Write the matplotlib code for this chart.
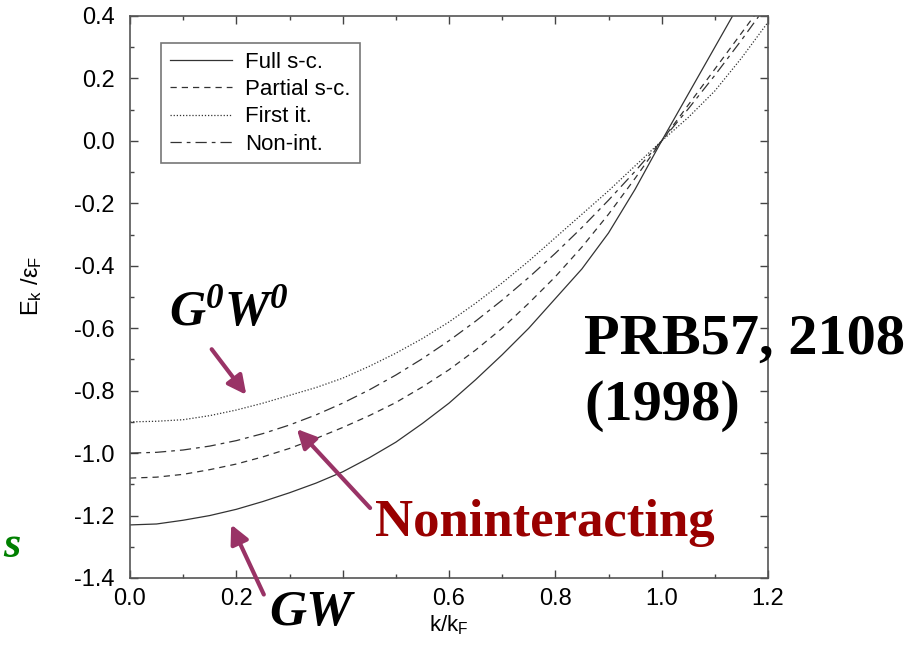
import matplotlib
matplotlib.use("Agg")
import matplotlib.pyplot as plt
from matplotlib.ticker import MultipleLocator

# --- Data (E_k / eps_F vs k / k_F) ---
k = [0.0, 0.05, 0.1, 0.15, 0.2, 0.25, 0.3, 0.35, 0.4, 0.45, 0.5, 0.55, 0.6,
     0.65, 0.7, 0.75, 0.8, 0.85, 0.9, 0.95, 1.0, 1.05, 1.1, 1.15, 1.2]
full_sc = [-1.23, -1.227, -1.215, -1.20, -1.18, -1.155, -1.127, -1.096, -1.06, -1.015, -0.965,
           -0.905, -0.84, -0.765, -0.685, -0.60, -0.505, -0.41, -0.295, -0.155, 0.0,
           0.15, 0.30, 0.45, 0.60]
partial_sc = [-1.08, -1.077, -1.068, -1.053, -1.035, -1.012, -0.985, -0.953, -0.918, -0.88, -0.838,
              -0.788, -0.733, -0.67, -0.60, -0.52, -0.435, -0.34, -0.235, -0.12, 0.0,
              0.115, 0.23, 0.345, 0.46]
first_it = [-0.90, -0.898, -0.893, -0.88, -0.862, -0.84, -0.815, -0.79, -0.76, -0.722, -0.68,
            -0.633, -0.58, -0.52, -0.455, -0.385, -0.31, -0.235, -0.16, -0.08, 0.0,
            0.075, 0.16, 0.265, 0.38]
non_int = [-1.0, -0.9975, -0.99, -0.9775, -0.96, -0.9375, -0.91, -0.8775, -0.84, -0.7975, -0.75,
           -0.6975, -0.64, -0.5775, -0.51, -0.4375, -0.36, -0.2775, -0.19, -0.0975, 0.0,
           0.1025, 0.21, 0.3225, 0.44]

x_ticks = [0.0, 0.2, 0.4, 0.6, 0.8, 1.0, 1.2]
x_tick_labels = ["0.0", "0.2", "", "0.6", "0.8", "1.0", "1.2"]  # 0.4 is hidden under "GW"
y_ticks = [0.4, 0.2, 0.0, -0.2, -0.4, -0.6, -0.8, -1.0, -1.2, -1.4]

plt.rcParams["font.family"] = ["Liberation Sans", "DejaVu Sans"]
plt.rcParams["axes.unicode_minus"] = False
plt.rcParams["mathtext.default"] = "regular"
plt.rcParams["mathtext.fontset"] = "custom"
plt.rcParams["mathtext.bf"] = "Liberation Serif:italic:bold"

line_col = "#333333"
arrow_col = "#993366"

fig = plt.figure(figsize=(9.18, 6.51), dpi=100)
ax = fig.add_axes([130 / 918, 1 - 578 / 651, 638 / 918, 562 / 651])

ax.plot(k, full_sc, color=line_col, lw=0.9, linestyle="-", label="Full s-c.")
ax.plot(k, partial_sc, color=line_col, lw=0.9, linestyle=(0, (5, 4)), label="Partial s-c.")
ax.plot(k, first_it, color=line_col, lw=0.9, linestyle=(0, (1, 1.5)), label="First it.")
ax.plot(k, non_int, color=line_col, lw=0.9, linestyle=(0, (9, 4, 3, 4)), label="Non-int.")

ax.set_xlim(0.0, 1.2)
ax.set_ylim(-1.4, 0.4)
ax.set_xticks(x_ticks)
ax.set_xticklabels(x_tick_labels)
ax.set_yticks(y_ticks)
ax.xaxis.set_minor_locator(MultipleLocator(0.1))
ax.yaxis.set_minor_locator(MultipleLocator(0.1))
ax.tick_params(which="both", direction="in", top=True, right=True, color="#444444", labelsize=17)
ax.tick_params(which="major", length=6, width=1)
ax.tick_params(which="minor", length=3, width=1)
ax.tick_params(axis="x", pad=7)
ax.tick_params(axis="y", pad=11)
for s in ax.spines.values():
    s.set_color("#555555")
    s.set_linewidth(1.2)

ax.set_xlabel("k/k$_F$", fontsize=16, labelpad=3)
ax.set_ylabel("E$_k$ /ε$_F$", fontsize=17)
ax.yaxis.set_label_coords(-0.135, 0.52)

leg = ax.legend(loc="upper left", bbox_to_anchor=(0.0486, 0.952), borderaxespad=0, fontsize=16,
                frameon=True, fancybox=False, edgecolor="#555555", handlelength=2.8,
                labelspacing=0.28, borderpad=0.4, handletextpad=0.6)
leg.get_frame().set_linewidth(1.2)

# --- Annotations ---
serif = ["Liberation Serif", "DejaVu Serif"]

def dc(px, py):
    # pixel in the reference picture -> data coords
    return ((px - 130) / 531.7, 0.4 - (py - 16) / 312.2)

ax.text(*dc(228, 312), r"$\mathbf{G^0W^0}$", fontsize=36, ha="center", va="center", clip_on=False)
ax.annotate("", xy=dc(248, 397), xytext=dc(210, 347), annotation_clip=False,
            arrowprops=dict(arrowstyle="-|>", color=arrow_col, lw=3, mutation_scale=28))

ax.text(*dc(311, 613), "GW", fontsize=37, ha="center", va="center", family=serif,
        weight="bold", style="italic", clip_on=False, zorder=5)
ax.annotate("", xy=dc(230, 522), xytext=dc(265, 597), annotation_clip=False,
            arrowprops=dict(arrowstyle="-|>", color=arrow_col, lw=3, mutation_scale=28))

ax.text(*dc(375, 523), "Noninteracting", fontsize=38, ha="left", va="center", family=serif,
        weight="bold", color="#990000", clip_on=False)
ax.annotate("", xy=dc(295, 427), xytext=dc(372, 510), annotation_clip=False,
            arrowprops=dict(arrowstyle="-|>", color=arrow_col, lw=3, mutation_scale=28))

fig.text(584 / 918, 1 - 314 / 651, "PRB57, 2108\n(1998)", fontsize=42, ha="left", va="top",
         family=serif, weight="bold", linespacing=1.35)

fig.text(3 / 918, 1 - 546 / 651, "s", fontsize=32, ha="left", va="center", family=serif,
         weight="bold", style="italic", color="#008000")

fig.savefig("out.png", dpi=100)
